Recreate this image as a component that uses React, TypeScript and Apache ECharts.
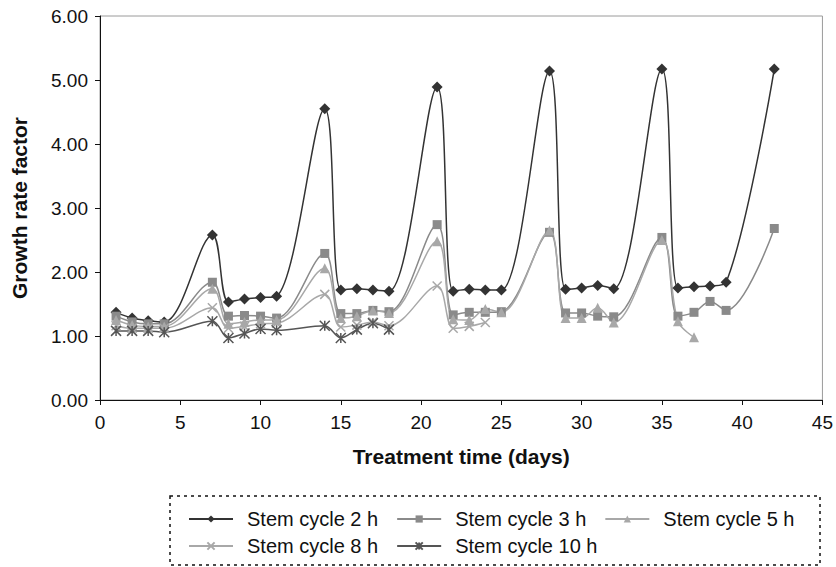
import React, { useEffect, useRef } from "react";
import * as echarts from "echarts";

const days2h = [1, 2, 3, 4, 7, 8, 9, 10, 11, 14, 15, 16, 17, 18, 21, 22, 23, 24, 25, 28, 29, 30, 31, 32, 35, 36, 37, 38, 39, 42];
const values2h = [1.37, 1.28, 1.24, 1.22, 2.58, 1.53, 1.58, 1.6, 1.62, 4.55, 1.72, 1.74, 1.72, 1.7, 4.89, 1.7, 1.73, 1.72, 1.72, 5.14, 1.73, 1.75, 1.79, 1.74, 5.17, 1.75, 1.77, 1.78, 1.84, 5.17];
const days3h = [1, 2, 3, 4, 7, 8, 9, 10, 11, 14, 15, 16, 17, 18, 21, 22, 23, 24, 25, 28, 29, 30, 31, 32, 35, 36, 37, 38, 39, 42];
const values3h = [1.31, 1.22, 1.19, 1.19, 1.84, 1.31, 1.32, 1.31, 1.28, 2.29, 1.35, 1.35, 1.4, 1.38, 2.74, 1.33, 1.37, 1.37, 1.38, 2.62, 1.36, 1.36, 1.31, 1.3, 2.54, 1.31, 1.37, 1.54, 1.4, 2.68];
const days5h = [1, 2, 3, 4, 7, 8, 9, 10, 11, 14, 15, 16, 17, 18, 21, 22, 23, 24, 25, 28, 29, 30, 31, 32, 35, 36, 37];
const values5h = [1.25, 1.17, 1.15, 1.15, 1.74, 1.19, 1.22, 1.25, 1.25, 2.06, 1.28, 1.31, 1.4, 1.36, 2.48, 1.26, 1.25, 1.42, 1.37, 2.65, 1.28, 1.28, 1.44, 1.21, 2.5, 1.23, 0.98];
const days8h = [1, 2, 3, 4, 7, 8, 9, 10, 11, 14, 15, 16, 17, 18, 21, 22, 23, 24];
const values8h = [1.16, 1.12, 1.12, 1.12, 1.44, 1.12, 1.15, 1.19, 1.2, 1.65, 1.14, 1.17, 1.22, 1.16, 1.78, 1.12, 1.15, 1.21];
const days10h = [1, 2, 3, 4, 7, 8, 9, 10, 11, 14, 15, 16, 17, 18];
const values10h = [1.08, 1.08, 1.08, 1.06, 1.23, 0.97, 1.04, 1.11, 1.09, 1.16, 0.97, 1.1, 1.2, 1.1];

const seriesNames = ["Stem cycle 2 h", "Stem cycle 3 h", "Stem cycle 5 h", "Stem cycle 8 h", "Stem cycle 10 h"];
const xTitle = "Treatment time (days)";
const yTitle = "Growth rate factor";

const FONT = "Liberation Sans, Arial, sans-serif";

const pairs = (d: number[], v: number[]) => d.map((x, i) => [x, v[i]]);

export default function App() {
  const ref = useRef<HTMLDivElement>(null);
  useEffect(() => {
    if (!ref.current) return;
    const chart = echarts.init(ref.current, undefined, { renderer: "svg" });
    const mk = (
      name: string,
      data: number[][],
      color: string,
      symbol: string,
      symbolSize: number,
      stroke?: boolean
    ) => ({
      name,
      type: "line",
      data,
      smooth: 0.35,
      symbol,
      symbolSize,
      showSymbol: true,
      lineStyle: { color, width: 1.5 },
      itemStyle: stroke
        ? { color: "rgba(0,0,0,0)", borderColor: color, borderWidth: 1.5 }
        : { color, borderWidth: 0 },
      emphasis: { disabled: true },
    });
    const X_PATH = "path://M0,0L10,10M10,0L0,10";
    const STAR_PATH = "path://M0,0L10,10M10,0L0,10M5,0L5,10";
    const legendBase = {
      left: 183,
      orient: "horizontal",
      itemWidth: 44,
      itemHeight: 9,
      itemGap: 18,
      textStyle: {
        fontSize: 20,
        color: "#111",
        fontFamily: FONT,
        padding: [0, 0, 0, 9],
      },
    };
    chart.setOption({
      animation: false,
      textStyle: { fontFamily: FONT },
      grid: {
        left: 100,
        right: 12,
        top: 16,
        bottom: 167,
        show: true,
        borderColor: "#9a9a9a",
        borderWidth: 1,
      },
      xAxis: {
        type: "value",
        min: 0,
        max: 45,
        interval: 5,
        name: xTitle,
        nameLocation: "middle",
        nameGap: 46,
        nameTextStyle: { fontSize: 21, fontWeight: "bold", color: "#111", fontFamily: FONT },
        axisLine: { show: true, lineStyle: { color: "#111", width: 1 } },
        axisTick: { show: true, length: 5, inside: false, lineStyle: { color: "#111" } },
        axisLabel: { fontSize: 19, color: "#111", margin: 13, fontFamily: FONT },
        splitLine: { show: false },
      },
      yAxis: {
        type: "value",
        min: 0,
        max: 6,
        interval: 1,
        name: yTitle,
        nameLocation: "middle",
        nameRotate: 90,
        nameGap: 70,
        nameTextStyle: { fontSize: 21, fontWeight: "bold", color: "#111", fontFamily: FONT },
        axisLine: { show: true, lineStyle: { color: "#111", width: 1 } },
        axisTick: { show: true, length: 5, inside: false, lineStyle: { color: "#111" } },
        axisLabel: {
          fontSize: 19,
          color: "#111",
          margin: 12,
          fontFamily: FONT,
          formatter: (v: number) => v.toFixed(2),
        },
        splitLine: { show: false },
      },
      legend: [
        { ...legendBase, data: seriesNames.slice(0, 3), top: 504 },
        { ...legendBase, data: seriesNames.slice(3), top: 531 },
      ],
      graphic: [
        {
          type: "rect",
          shape: { x: 170, y: 496, width: 650, height: 69 },
          style: { fill: "none", stroke: "#111", lineWidth: 1.5, lineDash: [3, 4] },
          silent: true,
        },
      ],
      series: [
        mk(seriesNames[0], pairs(days2h, values2h), "#333333", "diamond", 11),
        mk(seriesNames[1], pairs(days3h, values3h), "#8a8a8a", "rect", 9),
        mk(seriesNames[2], pairs(days5h, values5h), "#a8a8a8", "triangle", 10),
        mk(seriesNames[3], pairs(days8h, values8h), "#a8a8a8", X_PATH, 9, true),
        mk(seriesNames[4], pairs(days10h, values10h), "#555555", STAR_PATH, 10, true),
      ],
    });
    return () => chart.dispose();
  }, []);
  return (
    <div
      ref={ref}
      style={{ position: "absolute", left: 0, top: 0, width: 836, height: 567 }}
    />
  );
}
